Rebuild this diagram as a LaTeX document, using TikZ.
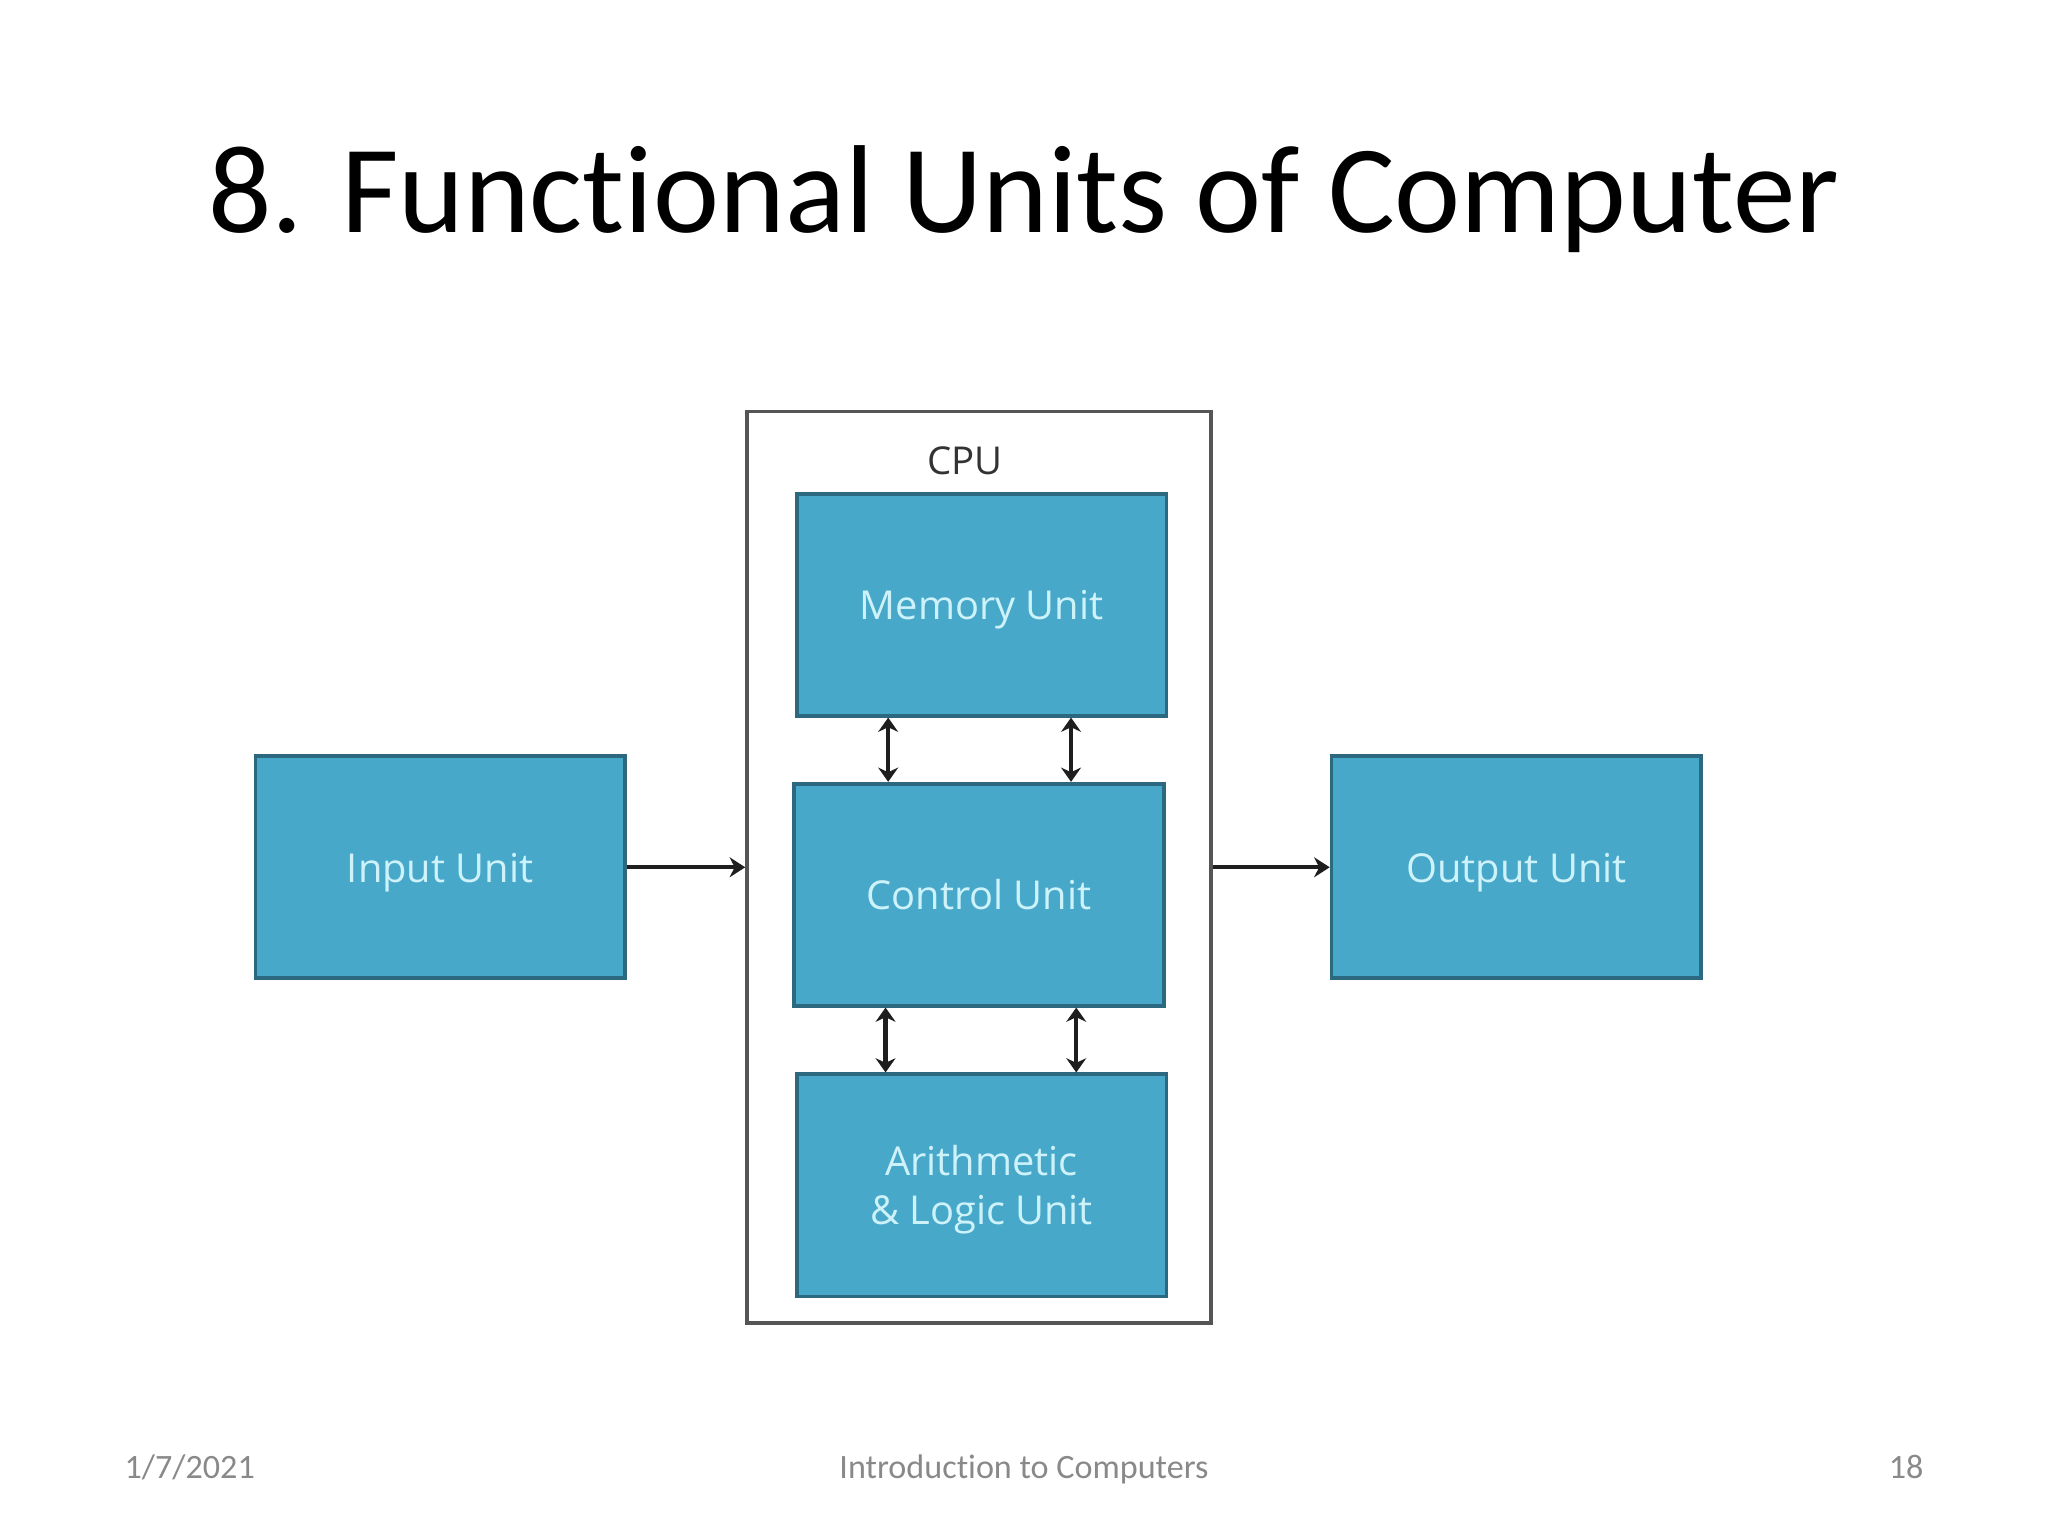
\documentclass[tikz,border=0pt]{standalone}
\usepackage{fontspec}
\setmainfont{Carlito}[Ligatures=NoCommon]
\newfontfamily\boxfont{Open Sans}
\usetikzlibrary{arrows.meta}
\definecolor{boxfill}{RGB}{72,168,201}
\definecolor{boxline}{RGB}{44,104,128}
\definecolor{boxtext}{RGB}{205,242,250}
\definecolor{cpuline}{RGB}{85,85,85}
\definecolor{arrowcol}{RGB}{30,30,30}
\definecolor{footgray}{RGB}{137,137,137}
\tikzset{
  unitbox/.style={draw=boxline, line width=1.3pt, fill=boxfill, minimum width=283*0.4592pt, minimum height=170*0.4592pt, inner sep=0pt, text=boxtext, font=\boxfont\fontsize{14}{17}\selectfont, align=center, text height=14pt, text depth=3.3pt},
  cpubox/.style={draw=cpuline, line width=1.3pt, fill=white, minimum width=355*0.4592pt, minimum height=698*0.4592pt, inner sep=0pt},
  flow/.style={draw=arrowcol, line width=1.4pt, -{Stealth[length=5.5pt,width=7pt]}},
  dbl/.style={draw=arrowcol, line width=1.5pt, {Stealth[length=5pt,width=7pt]}-{Stealth[length=5pt,width=7pt]}},
  foot/.style={text=footgray, font=\fontsize{12}{14}\selectfont, inner sep=0pt}
}
\begin{document}
\begin{tikzpicture}[x=0.4592pt, y=-0.4592pt]
\useasboundingbox (0,0) rectangle (1568,1176);
% title
\node[anchor=base, inner sep=0pt, font=\fontsize{44}{50}\selectfont] (title) at (784,178) {8. Functional Units of Computer};
% CPU
\node[cpubox] (cpu) at (749.5,664) {};
\node[text=black!80, font=\boxfont\fontsize{13.5}{16}\selectfont, inner sep=0pt] (cpulbl) at (739,353) {CPU};
\node[unitbox] (mem) at (751.5,463) {Memory Unit};
\node[unitbox] (ctrl) at (749.5,685) {Control Unit};
\node[unitbox, text height=30.5pt] (alu) at (751.5,907.5) {Arithmetic\\\& Logic Unit};
\node[unitbox] (in) at (337,664) {Input Unit};
\node[unitbox] (out) at (1161,664) {Output Unit};
% connectors
\draw[flow] (in.east) -- (cpu.west);
\draw[flow] (cpu.east) -- (out.west);
\coordinate (a1) at (680,0);
\coordinate (a2) at (820,0);
\coordinate (b1) at (678,0);
\coordinate (b2) at (824,0);
\draw[dbl] (mem.south -| a1) -- (ctrl.north -| a1);
\draw[dbl] (mem.south -| a2) -- (ctrl.north -| a2);
\draw[dbl] (ctrl.south -| b1) -- (alu.north -| b1);
\draw[dbl] (ctrl.south -| b2) -- (alu.north -| b2);
% footer
\node[foot, anchor=base west] (date) at (95,1132) {1/7/2021};
\node[foot, anchor=base] (course) at (784,1132) {Introduction to Computers};
\node[foot, anchor=base east] (page) at (1473,1132) {18};
\end{tikzpicture}
\end{document}
